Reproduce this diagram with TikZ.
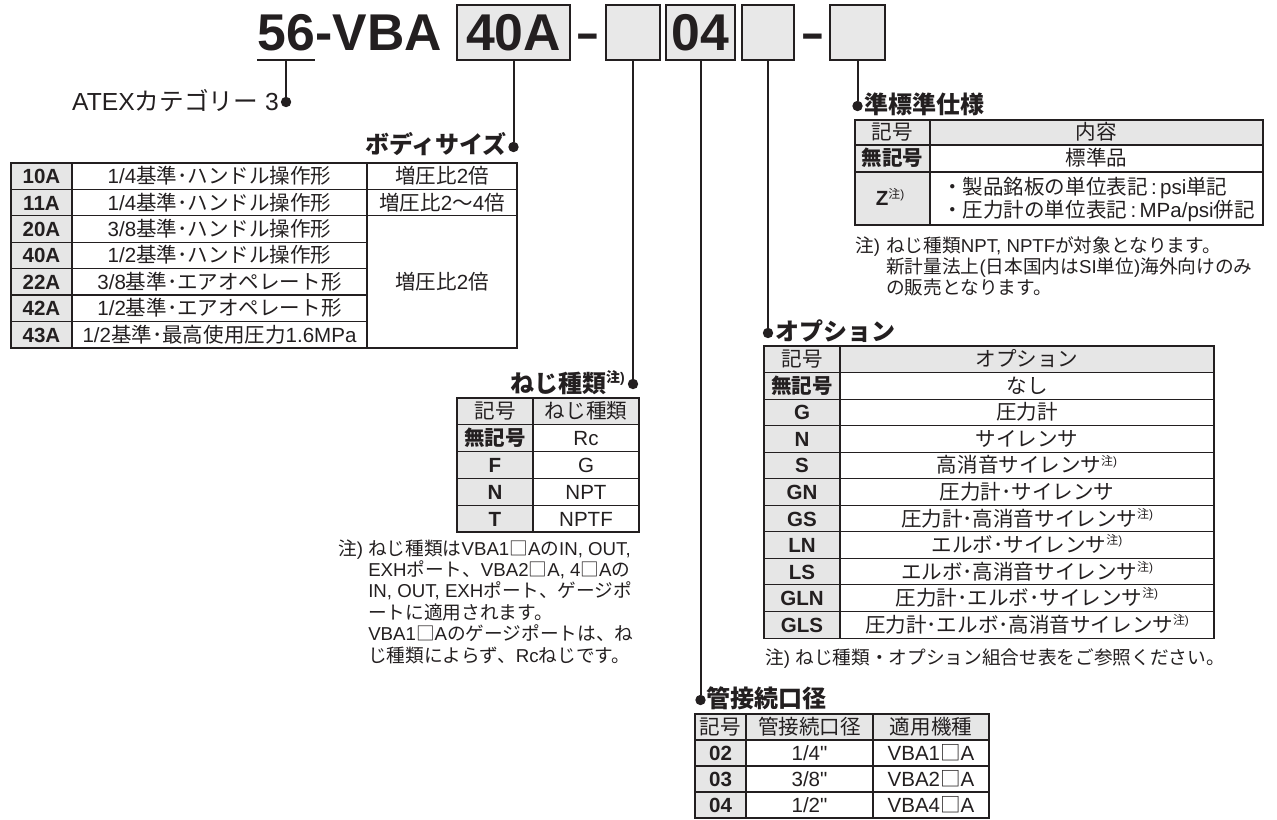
\documentclass[tikz,border=0pt]{standalone}
\usepackage{fontspec}
\setmainfont{Liberation Sans}
\newfontfamily\jpfont{Noto Sans CJK JP}
\usetikzlibrary{positioning,calc}

\definecolor{ink}{HTML}{231F20}
\definecolor{cellgray}{HTML}{E6E6E6}
\definecolor{boxgray}{HTML}{E8E8E8}

\XeTeXinterchartokenstate=1
\newXeTeXintercharclass\jpclass
\newcount\jpcount
\jpcount="3000
\loop
	\XeTeXcharclass\jpcount=\jpclass
	\advance\jpcount by 1
\ifnum\jpcount<"A000 \repeat
\jpcount="FF00
\loop
	\XeTeXcharclass\jpcount=\jpclass
	\advance\jpcount by 1
\ifnum\jpcount<"FFF0 \repeat
\XeTeXcharclass"25A1=\jpclass
\XeTeXinterchartoks 0 \jpclass = {\jpfont}
\XeTeXinterchartoks 4095 \jpclass = {\jpfont}
\XeTeXinterchartoks \jpclass 0 = {\rmfamily}
\XeTeXinterchartoks \jpclass 4095 = {\rmfamily}

\newcommand\chumark{\raisebox{0.38em}{\scalebox{0.58}{注)}}}
\newcommand\inch{{\addfontfeature{Ligatures=TeXOff}\symbol{34}}}

\begin{document}
\begin{tikzpicture}[x=0.75pt,y=-0.75pt,color=ink,
	ttl/.style={font=\fontsize{38.8}{40}\selectfont\bfseries,inner sep=0pt},
	codebox/.style={ttl,draw=ink,line width=1.5pt,fill=boxgray,minimum height=41.25pt},
	lead/.style={line width=1.5pt},
	leaddot/.style={circle,fill=ink,inner sep=0pt,minimum size=7.8pt},
	heading/.style={font=\fontsize{18}{20}\selectfont\bfseries,inner sep=0pt},
	cell/.style={font=\fontsize{15.4}{18}\selectfont,inner sep=0pt,anchor=base,yshift=-5.6pt},
	codecell/.style={cell,font=\fontsize{15.4}{18}\selectfont\bfseries},
	notetext/.style={font=\fontsize{14}{16}\selectfont,inner sep=0pt,anchor=base west},
	graycell/.style={fill=cellgray},
	tabline/.style={line width=0.8pt},
	tabtop/.style={line width=2pt}]
	\useasboundingbox (0,0) rectangle (1277,819);

	% model code
	\node[ttl,anchor=base west] (ttl56) at (257,50) {56};
	\node[ttl,anchor=base west] (ttlvba) at (ttl56.base east) {-VBA};
	\node[codebox,minimum width=84.75pt] (bsize) at (513.5,32.5) {40A};
	\node[ttl,anchor=base] (dash1) at (588,50) {\scalebox{0.72}[1]{–}};
	\node[codebox,minimum width=40.5pt] (bthread) at (633,32.5) {};
	\node[codebox,minimum width=51.75pt] (bport) at (700.5,32.5) {04};
	\node[codebox,minimum width=39pt] (bopt) at (768,32.5) {};
	\node[ttl,anchor=base] (dash2) at (813,50) {\scalebox{0.72}[1]{–}};
	\node[codebox,minimum width=41.25pt] (bspec) at (857.5,32.5) {};

	\node[leaddot] (d-atex) at (ttl56.base |- 0,102) {};
	\node[leaddot] (d-body) at (bsize.south |- 0,147) {};
	\node[leaddot] (d-thread) at (bthread.south |- 0,384) {};
	\node[leaddot] (d-port) at (bport.south |- 0,700) {};
	\node[leaddot] (d-opt) at (bopt.south |- 0,333) {};
	\node[leaddot] (d-spec) at (bspec.south |- 0,106) {};

	\draw[lead] ([yshift=-7.5pt]ttl56.base west) -- ([yshift=-7.5pt]ttl56.base east);
	\draw[lead] ([yshift=-7.5pt]ttl56.base) -- (d-atex);
	\draw[lead] (bsize.south) -- (d-body);
	\draw[lead] (bthread.south) -- (d-thread);
	\draw[lead] (bport.south) -- (d-port);
	\draw[lead] (bopt.south) -- (d-opt);
	\draw[lead] (bspec.south) -- (d-spec);

	\node[heading,font=\fontsize{18.5}{20}\selectfont,anchor=base east] (h-atex) at (279,110) {ATEXカテゴリー 3};

	% body size
	\node[heading,anchor=base east] (h-body) at (507,153) {ボディサイズ};
	\fill[graycell] (11,163) rectangle (72,348);
	\draw[tabline] (11,163) rectangle (517,348);
	\foreach \y in {189.4,215.8} \draw[tabline] (11,\y) -- (517,\y);
	\foreach \y in {242.2,268.6,295,321.4} \draw[tabline] (11,\y) -- (367,\y);
	\draw[tabline] (72,163) -- (72,348) (367,163) -- (367,348);
	\draw[tabtop] (11,163) -- (517,163);
	\node[codecell] (bs1) at (41.5,176.2) {10A};
	\node[cell] (bs1t) at (219.5,176.2) {1/4基準･ハンドル操作形};
	\node[cell] (bs1r) at (442,176.2) {増圧比2倍};
	\node[codecell] (bs2) at (41.5,202.6) {11A};
	\node[cell] (bs2t) at (219.5,202.6) {1/4基準･ハンドル操作形};
	\node[cell] (bs2r) at (442,202.6) {増圧比2〜4倍};
	\node[codecell] (bs3) at (41.5,229) {20A};
	\node[cell] (bs3t) at (219.5,229) {3/8基準･ハンドル操作形};
	\node[codecell] (bs4) at (41.5,255.4) {40A};
	\node[cell] (bs4t) at (219.5,255.4) {1/2基準･ハンドル操作形};
	\node[codecell] (bs5) at (41.5,281.8) {22A};
	\node[cell] (bs5t) at (219.5,281.8) {3/8基準･エアオペレート形};
	\node[codecell] (bs6) at (41.5,308.2) {42A};
	\node[cell] (bs6t) at (219.5,308.2) {1/2基準･エアオペレート形};
	\node[codecell] (bs7) at (41.5,334.6) {43A};
	\node[cell] (bs7t) at (219.5,334.6) {1/2基準･最高使用圧力1.6MPa};
	\node[cell] (bs3r) at (442,281.8) {増圧比2倍};

	% thread
	\node[heading,anchor=base east] (h-thread) at (625,392) {ねじ種類\chumark};
	\fill[graycell] (457,398) rectangle (639,424.8);
	\fill[graycell] (457,424.8) rectangle (533,532);
	\draw[tabline] (457,398) rectangle (639,532);
	\foreach \y in {424.8,451.6,478.4,505.2} \draw[tabline] (457,\y) -- (639,\y);
	\draw[tabline] (533,398) -- (533,532);
	\draw[tabtop] (457,398) -- (639,398);
	\node[cell] (th0) at (495,411.4) {記号};
	\node[cell] (th0t) at (586,411.4) {ねじ種類};
	\node[codecell] (th1) at (495,438.2) {無記号};
	\node[cell] (th1t) at (586,438.2) {Rc};
	\node[codecell] (th2) at (495,465) {F};
	\node[cell] (th2t) at (586,465) {G};
	\node[codecell] (th3) at (495,491.8) {N};
	\node[cell] (th3t) at (586,491.8) {NPT};
	\node[codecell] (th4) at (495,518.6) {T};
	\node[cell] (th4t) at (586,518.6) {NPTF};
	\node[notetext] (n-thread) at (338,555) {注)};
	\foreach \l [count=\k from 0] in {{ねじ種類はVBA1□AのIN, OUT,},{EXHポート、VBA2□A, 4□Aの},{IN, OUT, EXHポート、ゲージポ},{ートに適用されます。},{VBA1□Aのゲージポートは、ね},{じ種類によらず、Rcねじです。}}
		\node[notetext] (n-thread\k) at (368,{555+21.4*\k}) {\l};

	% semi-standard
	\node[heading,anchor=base west] (h-spec) at (864,113) {準標準仕様};
	\fill[graycell] (855,120) rectangle (1263,145);
	\fill[graycell] (855,145) rectangle (930,225);
	\draw[tabline] (855,120) rectangle (1263,225);
	\draw[tabline] (855,145) -- (1263,145) (855,172) -- (1263,172) (930,120) -- (930,225);
	\draw[tabtop] (855,120) -- (1263,120);
	\node[cell] (sp0) at (892.5,132.5) {記号};
	\node[cell] (sp0t) at (1096.5,132.5) {内容};
	\node[codecell] (sp1) at (892.5,158.5) {無記号};
	\node[cell] (sp1t) at (1096.5,158.5) {標準品};
	\node[cell] (sp2) at (890,198.5) {\textbf{Z}\chumark};
	\node[cell,anchor=base west] (sp2a) at (942,187) {・製品銘板の単位表記\,:\,psi単記};
	\node[cell,anchor=base west] (sp2b) at (942,210) {・圧力計の単位表記\,:\,MPa/psi併記};
	\node[notetext] (n-spec) at (855,252) {注)};
	\foreach \l [count=\k from 0] in {{ねじ種類NPT, NPTFが対象となります。},{新計量法上(日本国内はSI単位)海外向けのみ},{の販売となります。}}
		\node[notetext] (n-spec\k) at (886,{252+21*\k}) {\l};

	% options
	\node[heading,anchor=base west] (h-opt) at (775,340) {オプション};
	\fill[graycell] (764,346) rectangle (1214,372.55);
	\fill[graycell] (764,372.55) rectangle (840,638.05);
	\draw[tabline] (764,346) rectangle (1214,638.05);
	\foreach \k in {1,...,10} \draw[tabline] (764,{346+26.55*\k}) -- (1214,{346+26.55*\k});
	\draw[tabline] (840,346) -- (840,638.05);
	\draw[tabtop] (764,346) -- (1214,346);
	\node[cell] (op0) at (802,359.3) {記号};
	\node[cell] (op0t) at (1027,359.3) {オプション};
	\foreach \c/\t [count=\k] in {無記号/なし,G/圧力計,N/サイレンサ,S/高消音サイレンサ\chumark,GN/圧力計･サイレンサ,GS/圧力計･高消音サイレンサ\chumark,LN/エルボ･サイレンサ\chumark,LS/エルボ･高消音サイレンサ\chumark,GLN/圧力計･エルボ･サイレンサ\chumark,GLS/圧力計･エルボ･高消音サイレンサ\chumark}{
		\node[codecell] (op\k) at (802,{346+26.55*(\k+0.5)}) {\c};
		\node[cell] (op\k t) at (1027,{346+26.55*(\k+0.5)}) {\t};
	}
	\node[notetext] (n-opt) at (765,664) {注) ねじ種類・オプション組合せ表をご参照ください。};

	% port size
	\node[heading,anchor=base west] (h-port) at (706,707) {管接続口径};
	\fill[graycell] (695,714) rectangle (989,740);
	\fill[graycell] (695,740) rectangle (746,818);
	\draw[tabline] (695,714) rectangle (989,818);
	\foreach \y in {740,766,792} \draw[tabline] (695,\y) -- (989,\y);
	\draw[tabline] (746,714) -- (746,818) (873,714) -- (873,818);
	\draw[tabtop] (695,714) -- (989,714);
	\node[cell] (pt0) at (720.5,727) {記号};
	\node[cell] (pt0a) at (809.5,727) {管接続口径};
	\node[cell] (pt0b) at (931,727) {適用機種};
	\node[codecell] (pt1) at (720.5,753) {02};
	\node[cell] (pt1a) at (809.5,753) {1/4\inch};
	\node[cell] (pt1b) at (931,753) {VBA1□A};
	\node[codecell] (pt2) at (720.5,779) {03};
	\node[cell] (pt2a) at (809.5,779) {3/8\inch};
	\node[cell] (pt2b) at (931,779) {VBA2□A};
	\node[codecell] (pt3) at (720.5,805) {04};
	\node[cell] (pt3a) at (809.5,805) {1/2\inch};
	\node[cell] (pt3b) at (931,805) {VBA4□A};
\end{tikzpicture}
\end{document}
